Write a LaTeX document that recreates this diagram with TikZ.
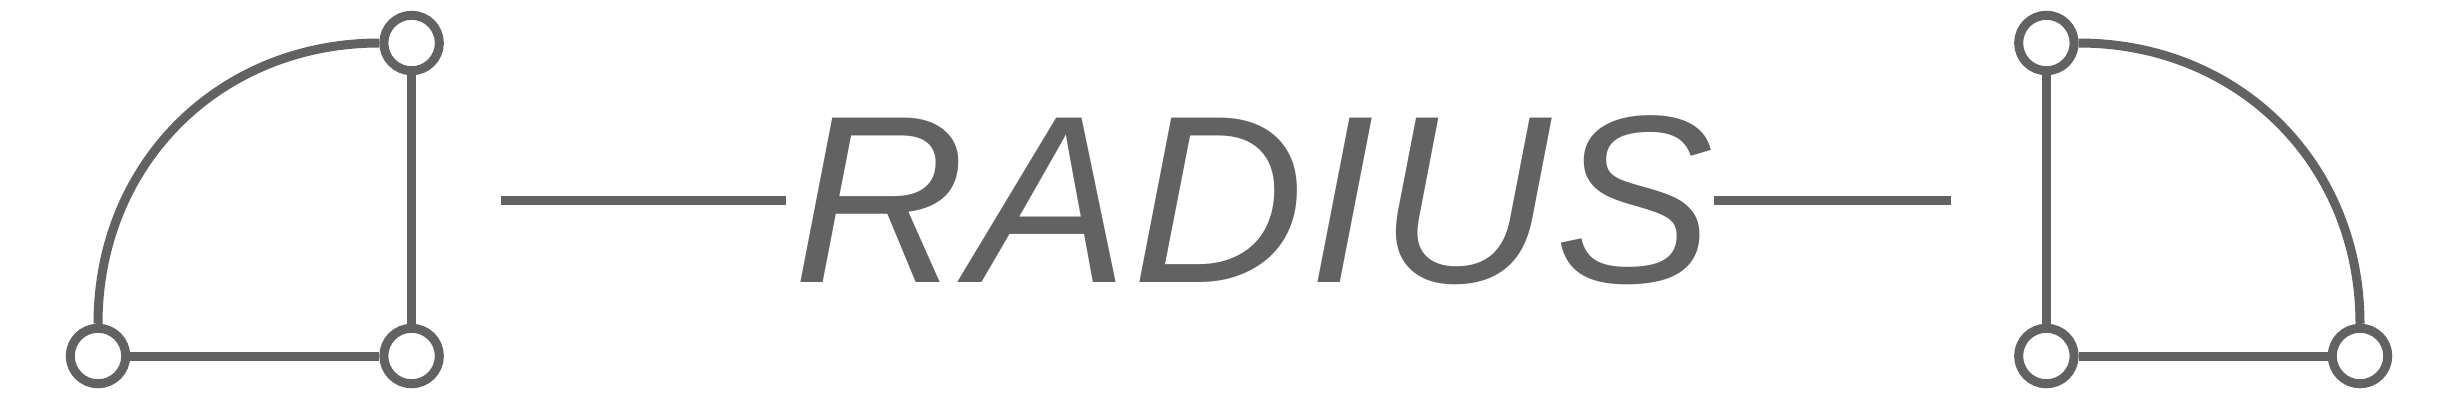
\documentclass[tikz,border=0pt]{standalone}
\usepackage{fontspec}
\setmainfont{Liberation Sans}
\definecolor{ink}{HTML}{626262}
\tikzstyle{corner}=[circle,draw=ink,fill=white,line width=0.9mm,inner sep=0pt,minimum size=5.55mm]
\tikzstyle{edge}=[draw=ink,line width=0.9mm]
\tikzstyle{word}=[text=ink,anchor=base,inner sep=0pt,outer sep=0pt,font=\fontsize{68}{72}\selectfont\itshape\addfontfeature{LetterSpace=1.5}]

\begin{document}
\begin{tikzpicture}
		\useasboundingbox (0,0) rectangle (24.58,4);
		
		% left quarter
		\node (t) at (4.116,3.57) [corner] {};
		\node (l) at (0.98,0.44) [corner] {};
		\node (c) at (4.116,0.44) [corner] {};
		
		% right quarter
		\node (t2) at (20.464,3.57) [corner] {};
		\node (c2) at (20.464,0.44) [corner] {};
		\node (r2) at (23.60,0.44) [corner] {};
		
		\node (w) at (12.54,1.18) [word] {RADIUS};
		\coordinate (p) at (5.01,2);
		\coordinate (q) at (19.51,2);
		
		\draw[edge] (l.north) .. controls +(0,1.6) and +(-1.6,0) .. (t.west);
		\draw[edge] (t)--(c)--(l);
		\draw[edge] (t2.east) .. controls +(1.6,0) and +(0,1.6) .. (r2.north);
		\draw[edge] (t2)--(c2)--(r2);
		
		\draw[edge] (p)--([xshift=-0.8mm]p -| w.west);
		\draw[edge] (q -| w.east)--(q);
	\end{tikzpicture}
\end{document}
